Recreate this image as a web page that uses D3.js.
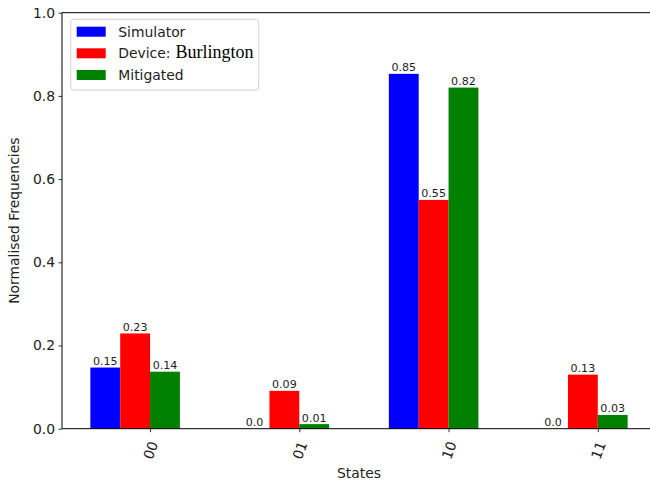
<!DOCTYPE html>
<html>
<head>
<meta charset="utf-8">
<script src="https://cdn.jsdelivr.net/npm/d3@7"></script>
<style>
  html, body { margin: 0; padding: 0; background: #fff; }
  svg { display: block; font-family: "DejaVu Sans", sans-serif; }
</style>
</head>
<body>
<svg id="chart" width="650" height="483"></svg>
<script>
// ---- data ----
const states = ["00", "01", "10", "11"];
const simulator = [0.147, 0.0, 0.853, 0.0];
const device = [0.229, 0.091, 0.550, 0.130];
const mitigated = [0.137, 0.011, 0.820, 0.033];
const seriesNames = ["Simulator", "Device:", "Mitigated"];
const seriesColors = ["#0000ff", "#ff0000", "#008000"];
const yTicks = [0.0, 0.2, 0.4, 0.6, 0.8, 1.0];
const deviceName = "Burlington";

(function () {
const series = [simulator, device, mitigated];
const offsets = [-0.4, -0.2, 0.0]; // left edge offset of each bar relative to the tick
const barW = 0.2;

const svg = d3.select("#chart");
const pLeft = 62, pRight = 656, pTop = 12.7, pBottom = 428.7;

const x = d3.scaleLinear().domain([-0.59, 3.39]).range([pLeft, pRight]);
const y = d3.scaleLinear().domain([0, 1]).range([pBottom, pTop]);

function fmt(v) {
  const r = Math.round(v * 100) / 100;
  let s = String(r);
  if (s.indexOf(".") < 0) s += ".0";
  return s;
}

// bars
series.forEach((vals, si) => {
  const g = svg.append("g");
  g.selectAll("rect").data(vals).join("rect")
    .attr("x", (d, i) => x(i + offsets[si]))
    .attr("width", (d, i) => x(i + offsets[si] + barW) - x(i + offsets[si]))
    .attr("y", d => y(d))
    .attr("height", d => y(0) - y(d))
    .attr("fill", seriesColors[si]);
  g.selectAll("text").data(vals).join("text")
    .attr("x", (d, i) => x(i + offsets[si] + barW / 2))
    .attr("y", d => y(d) - 2.6)
    .attr("text-anchor", "middle")
    .attr("font-size", "11.1px")
    .attr("fill", "#222")
    .text(d => fmt(d));
});

// axes
const yAxis = d3.axisLeft(y).tickValues(yTicks).tickFormat(d3.format(".1f")).tickSize(3.5).tickPadding(3.5);
const yg = svg.append("g").attr("transform", `translate(${pLeft},0)`).call(yAxis);
yg.select(".domain").remove();
yg.selectAll("text").attr("font-size", "13.9px").attr("font-family", "DejaVu Sans").attr("fill", "#222");
yg.selectAll("line").attr("stroke", "#000").attr("stroke-width", 0.8);

const xAxis = d3.axisBottom(x).tickValues(d3.range(states.length)).tickFormat(i => states[i]).tickSize(3.5);
const xg = svg.append("g").attr("transform", `translate(0,${pBottom})`).call(xAxis);
xg.select(".domain").remove();
xg.selectAll("line").attr("stroke", "#000").attr("stroke-width", 0.8);
xg.selectAll("text")
  .attr("font-size", "13.9px").attr("font-family", "DejaVu Sans").attr("fill", "#222")
  .attr("y", null).attr("dy", null)
  .attr("text-anchor", "middle")
  .attr("transform", "translate(0,21.5) rotate(-70)")
  .attr("dy", "0.36em");

// spines
const spine = (x1, y1, x2, y2) => svg.append("line").attr("x1", x1).attr("y1", y1).attr("x2", x2).attr("y2", y2)
  .attr("stroke", "#000").attr("stroke-width", 1);
spine(pLeft, pTop, pLeft, pBottom);
spine(pLeft, pBottom, pRight, pBottom);
spine(pLeft, pTop, pRight, pTop);
spine(pRight, pTop, pRight, pBottom);

// axis labels
svg.append("text").attr("x", (pLeft + pRight) / 2).attr("y", 478)
  .attr("text-anchor", "middle").attr("font-size", "13.9px").attr("fill", "#222").text("States");
svg.append("text").attr("transform", `translate(19,${(pTop + pBottom) / 2}) rotate(-90)`)
  .attr("text-anchor", "middle").attr("font-size", "13.9px").attr("fill", "#222").text("Normalised Frequencies");

// legend
const lg = svg.append("g");
lg.append("rect").attr("x", 70.7).attr("y", 19.3).attr("width", 188).attr("height", 70.7)
  .attr("rx", 3).attr("fill", "#fff").attr("fill-opacity", 0.8).attr("stroke", "#d0d0d0").attr("stroke-width", 1);
const rowY = [31.7, 53.3, 75];
seriesNames.forEach((name, i) => {
  lg.append("rect").attr("x", 76.7).attr("y", rowY[i] - 5).attr("width", 29).attr("height", 10).attr("fill", seriesColors[i]);
  const t = lg.append("text").attr("x", 118.3).attr("y", rowY[i] + 5).attr("font-size", "13.9px").attr("fill", "#222");
  t.append("tspan").text(name);
  if (i === 1) {
    t.append("tspan").attr("dx", 5).attr("font-family", "Liberation Serif, serif").attr("font-size", "18px").attr("fill", "#000").text(deviceName);
  }
});
})();
</script>
</body>
</html>
